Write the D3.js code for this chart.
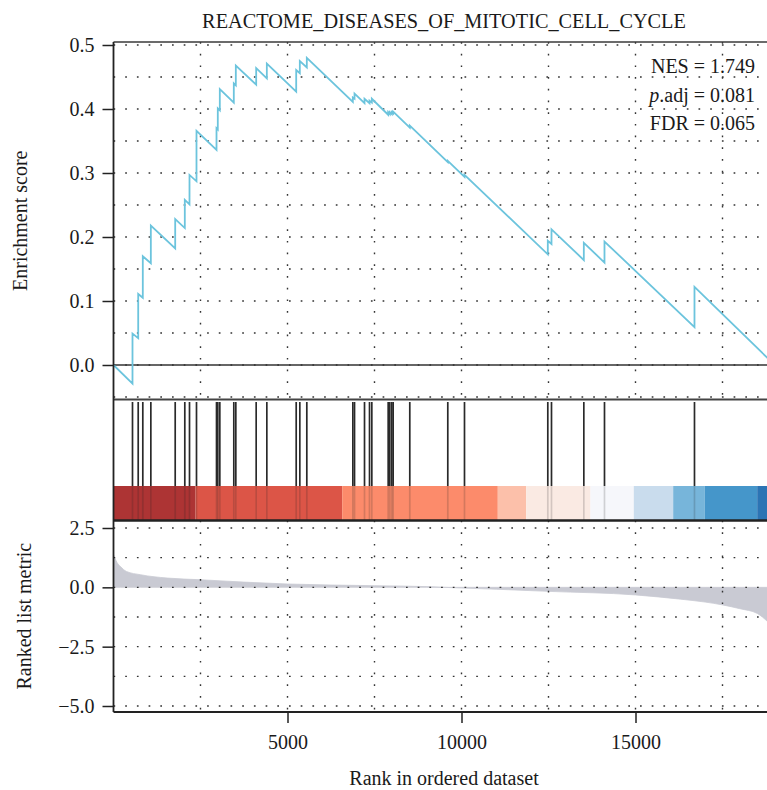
<!DOCTYPE html>
<html>
<head>
<meta charset="utf-8">
<script src="https://cdn.jsdelivr.net/npm/d3@7"></script>
<style>
  body { margin: 0; background: #fff; }
  svg text { font-family: 'Liberation Serif', 'DejaVu Serif', serif; fill: #1a1a1a; }
</style>
</head>
<body>
<svg class="gsea"></svg>
<script>
(function () {
  'use strict';

  var title = 'REACTOME_DISEASES_OF_MITOTIC_CELL_CYCLE';
  var nGenes = 19000;

  // gene set hits (rank in ordered list) + running score just before / after each hit
  var hitRanks = [546, 710, 842, 1073, 1773, 2049, 2184, 2385, 2960, 2997, 3055, 3457,
    3515, 4100, 4406, 5250, 5354, 5555, 6877, 6926, 7213, 7357, 7423, 7893, 7940,
    7997, 8036, 8514, 9606, 10086, 12480, 12586, 13515, 14109, 16695];
  var esBefore = [-0.029, 0.042, 0.105, 0.159, 0.182, 0.214, 0.251, 0.287, 0.336, 0.368,
    0.398, 0.410, 0.437, 0.438, 0.448, 0.427, 0.456, 0.465, 0.411, 0.416, 0.409, 0.409,
    0.410, 0.391, 0.392, 0.392, 0.393, 0.371, 0.317, 0.294, 0.173, 0.189, 0.164, 0.160,
    0.059];
  var esAfter = [0.049, 0.111, 0.170, 0.218, 0.228, 0.258, 0.297, 0.366, 0.370, 0.401,
    0.431, 0.440, 0.468, 0.464, 0.471, 0.461, 0.475, 0.480, 0.418, 0.424, 0.416, 0.413,
    0.416, 0.395, 0.395, 0.395, 0.396, 0.374, 0.319, 0.297, 0.194, 0.212, 0.191, 0.193,
    0.122];

  // ranked list metric (read along the grey area)
  var metricRank = [0, 100, 200, 370, 780, 1550, 2500, 3750, 5000, 7500, 9000, 10000,
    11000, 12500, 15000, 16300, 17000, 17500, 18000, 18500, 18800, 19000];
  var metricValue = [1.38, 1.05, 0.88, 0.67, 0.53, 0.39, 0.32, 0.22, 0.14, 0.07, 0.03,
    -0.03, -0.08, -0.17, -0.32, -0.50, -0.62, -0.74, -0.90, -1.10, -1.45, -1.75];

  // colour bar under the hits
  var binEdges = [0, 2356, 6572, 11043, 11859, 13707, 14951, 16083, 16992, 18497, 19000];
  var binColors = ['#AD3434', '#DC5547', '#FC8B6B', '#FCC0AA', '#FAEAE3', '#F6F7FB',
    '#C9DCED', '#77B5DA', '#4596CA', '#2C74B4'];

  var xTicks = [5000, 10000, 15000];
  var xGrid = [2500, 5000, 7500, 10000, 12500, 15000, 17500];
  var esTicks = [0, 0.1, 0.2, 0.3, 0.4, 0.5];
  var esGrid = [-0.05, 0, 0.05, 0.1, 0.15, 0.2, 0.25, 0.3, 0.35, 0.4, 0.45, 0.5];
  var metricTicks = [2.5, 0, -2.5, -5];
  var metricGrid = [2.5, 1.25, 0, -1.25, -2.5, -3.75, -5];

  var statLabels = ['NES = 1.749', '.adj = 0.081', 'FDR = 0.065'];

  var width = 767;
  var height = 790;
  var left = 113.5;

  var top1 = 42, bottom1 = 399.5;   // running score panel
  var top2 = 400, bottom2 = 520.5;  // hits + colour bar
  var top3 = 520.5, bottom3 = 712;  // ranked metric
  var barTop = 486;

  var svg = d3.select('.gsea')
    .attr('width', width)
    .attr('height', height);

  var x = d3.scaleLinear().domain([0, nGenes]).range([left, 774.7]);
  var yEs = d3.scaleLinear().domain([-0.05, 0.5]).range([397, 45]);
  var yMetric = d3.scaleLinear().domain([-5, 2.5]).range([706, 528]);

  var fmt1 = d3.format('.1f');

  function grid (g, yScale, yVals, y0, y1) {
    g.selectAll('.hg')
      .data(yVals)
      .enter()
      .append('line')
      .attr('x1', left)
      .attr('x2', width)
      .attr('y1', function (d) { return yScale(d); })
      .attr('y2', function (d) { return yScale(d); });
    g.selectAll('.vg')
      .data(xGrid)
      .enter()
      .append('line')
      .attr('x1', function (d) { return x(d); })
      .attr('x2', function (d) { return x(d); })
      .attr('y1', y0)
      .attr('y2', y1);
    g.selectAll('line')
      .attr('stroke', '#333')
      .attr('stroke-width', 1.4)
      .attr('stroke-dasharray', '1.7,10');
  }

  // ---- top panel: running enrichment score
  grid(svg.append('g'), yEs, esGrid, top1, bottom1);

  svg.append('line')
    .attr('x1', left).attr('x2', width)
    .attr('y1', yEs(0)).attr('y2', yEs(0))
    .attr('stroke', '#333')
    .attr('stroke-width', 1.5);

  var esPts = [[0, 0]];
  hitRanks.forEach(function (r, i) {
    esPts.push([r, esBefore[i]]);
    esPts.push([r, esAfter[i]]);
  });
  esPts.push([nGenes, 0]);

  svg.append('path')
    .datum(esPts)
    .attr('fill', 'none')
    .attr('stroke', '#6CC4DD')
    .attr('stroke-width', 1.8)
    .attr('d', d3.line()
      .x(function (d) { return x(d[0]); })
      .y(function (d) { return yEs(d[1]); }));

  // ---- middle panel: hits and colour bar
  svg.selectAll('.hit')
    .data(hitRanks)
    .enter()
    .append('line')
    .attr('x1', function (d) { return x(d); })
    .attr('x2', function (d) { return x(d); })
    .attr('y1', top2 + 2)
    .attr('y2', barTop)
    .attr('stroke', '#2a2a2a')
    .attr('stroke-width', 1.7);

  svg.selectAll('.bin')
    .data(binColors)
    .enter()
    .append('rect')
    .attr('x', function (d, i) { return x(binEdges[i]); })
    .attr('width', function (d, i) { return x(binEdges[i + 1]) - x(binEdges[i]); })
    .attr('y', barTop)
    .attr('height', bottom2 - barTop)
    .attr('fill', function (d) { return d; });

  svg.selectAll('.hitBar')
    .data(hitRanks)
    .enter()
    .append('line')
    .attr('x1', function (d) { return x(d); })
    .attr('x2', function (d) { return x(d); })
    .attr('y1', barTop)
    .attr('y2', bottom2)
    .attr('stroke', '#222')
    .attr('stroke-opacity', 0.18)
    .attr('stroke-width', 1.7);

  // ---- bottom panel: ranked list metric
  var metricPts = metricRank.map(function (r, i) { return [r, metricValue[i]]; });
  svg.append('path')
    .datum(metricPts)
    .attr('fill', '#C9CAD3')
    .attr('stroke', '#C9CAD3')
    .attr('stroke-width', 0.8)
    .attr('d', d3.area()
      .curve(d3.curveMonotoneX)
      .x(function (d) { return x(d[0]); })
      .y0(yMetric(0))
      .y1(function (d) { return yMetric(d[1]); }));

  grid(svg.append('g'), yMetric, metricGrid, top3, bottom3);

  // ---- frames
  var frame = [
    [left, top1, width, top1, '#3a3a3a', 1.3],
    [left, bottom1, width, bottom1, '#444', 2],
    [left, bottom2, width, bottom2, '#222', 2.4],
    [left, bottom3, width, bottom3, '#222', 2.2],
    [left, top1, left, bottom3, '#222', 1.8]
  ];
  svg.selectAll('.frame')
    .data(frame)
    .enter()
    .append('line')
    .attr('x1', function (d) { return d[0]; })
    .attr('y1', function (d) { return d[1]; })
    .attr('x2', function (d) { return d[2]; })
    .attr('y2', function (d) { return d[3]; })
    .attr('stroke', function (d) { return d[4]; })
    .attr('stroke-width', function (d) { return d[5]; });

  // ---- axes
  function styleAxis (g) {
    g.select('.domain').remove();
    g.selectAll('.tick line').attr('stroke', '#222').attr('stroke-width', 1.5);
    g.selectAll('.tick text')
      .attr('font-size', 20)
      .attr('font-family', "'Liberation Serif', serif")
      .attr('fill', '#1a1a1a');
  }

  svg.append('g')
    .attr('transform', 'translate(' + left + ',0)')
    .call(d3.axisLeft(yEs).tickValues(esTicks).tickFormat(fmt1).tickSize(11).tickPadding(8))
    .call(styleAxis);

  svg.append('g')
    .attr('transform', 'translate(' + left + ',0)')
    .call(d3.axisLeft(yMetric).tickValues(metricTicks).tickFormat(fmt1).tickSize(11).tickPadding(8))
    .call(styleAxis);

  svg.append('g')
    .attr('transform', 'translate(0,' + bottom3 + ')')
    .call(d3.axisBottom(x).tickValues(xTicks).tickFormat(d3.format('d')).tickSize(11).tickPadding(12))
    .call(styleAxis);

  // ---- texts
  svg.append('text')
    .attr('x', 444)
    .attr('y', 28)
    .attr('text-anchor', 'middle')
    .attr('font-size', 20.3)
    .text(title);

  svg.append('text')
    .attr('transform', 'translate(27,' + (top1 + bottom1) / 2 + ') rotate(-90)')
    .attr('text-anchor', 'middle')
    .attr('font-size', 20)
    .text('Enrichment score');

  svg.append('text')
    .attr('transform', 'translate(31,' + (top3 + bottom3) / 2 + ') rotate(-90)')
    .attr('text-anchor', 'middle')
    .attr('font-size', 20)
    .text('Ranked list metric');

  svg.append('text')
    .attr('x', 444)
    .attr('y', 785)
    .attr('text-anchor', 'middle')
    .attr('font-size', 20)
    .text('Rank in ordered dataset');

  var stats = svg.append('g')
    .attr('font-size', 20)
    .attr('text-anchor', 'end');
  stats.append('text').attr('x', 755).attr('y', 73).text(statLabels[0]);
  var pText = stats.append('text').attr('x', 755).attr('y', 101.5);
  pText.append('tspan').attr('font-style', 'italic').text('p');
  pText.append('tspan').text(statLabels[1]);
  stats.append('text').attr('x', 755).attr('y', 130).text(statLabels[2]);
}());
</script>
</body>
</html>
